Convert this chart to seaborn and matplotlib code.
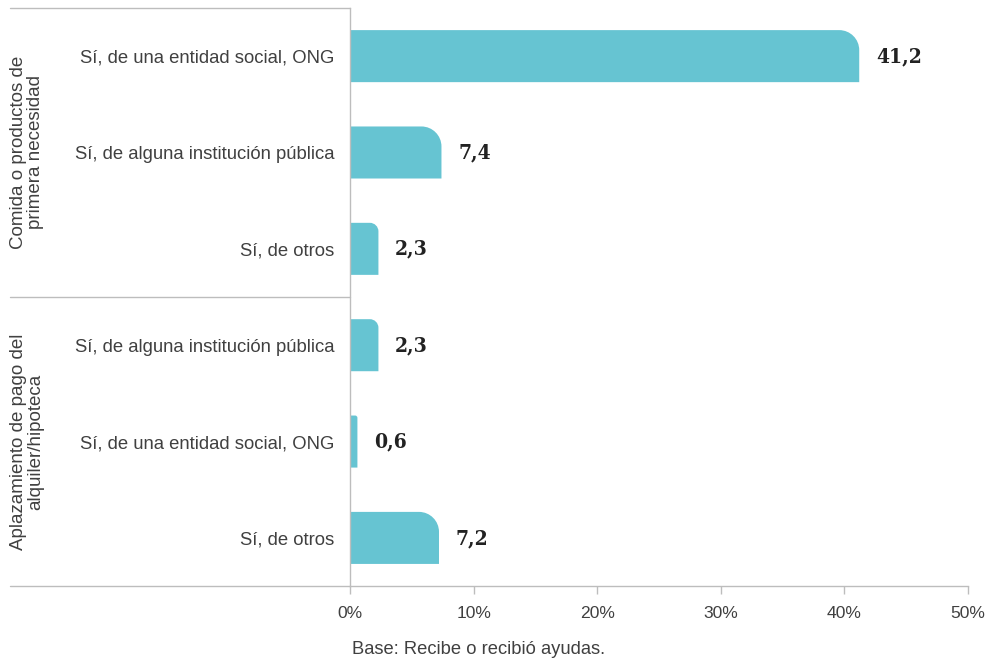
import matplotlib
matplotlib.use('Agg')
import matplotlib.pyplot as plt
import matplotlib.transforms as mtransforms
from matplotlib.lines import Line2D
from matplotlib.path import Path
from matplotlib.patches import PathPatch
import seaborn as sns
import pandas as pd

# data
groups = ['Comida o productos de\nprimera necesidad',
          'Aplazamiento de pago del\nalquiler/hipoteca']
answers = ['Sí, de una entidad social, ONG',
           'Sí, de alguna institución pública',
           'Sí, de otros',
           'Sí, de alguna institución pública',
           'Sí, de una entidad social, ONG',
           'Sí, de otros']
values = [41.2, 7.4, 2.3, 2.3, 0.6, 7.2]
row_group = [0, 0, 0, 1, 1, 1]
xticks = [0, 10, 20, 30, 40, 50]
footnote = 'Base: Recibe o recibió ayudas.'

bar_color = '#66c4d2'
gray = '#bdbdbd'
text_color = '#404040'

sns.set_theme(style='white')
plt.rcParams['font.family'] = ['Liberation Sans', 'DejaVu Sans']

df = pd.DataFrame({'row': ['r%d' % i for i in range(len(values))],
                   'answer': answers, 'value': values})

fig = plt.figure(figsize=(10, 6.63), dpi=100)
ax = fig.add_axes([0.35, 0.116, 0.618, 0.872])
sns.barplot(data=df, x='value', y='row', orient='h', color=bar_color,
            saturation=1, width=0.54, ax=ax)

ax.set_xlim(0, 50)
ax.set_ylim(len(values) - 0.5, -0.5)
ax.set_xlabel('')
ax.set_ylabel('')

# round the top-right corner of each bar
px_x = 50 / (0.618 * 1000)
px_y = len(values) / (0.872 * 663)
k = 0.5523
for p in list(ax.patches):
    x0, x1 = p.get_x(), p.get_x() + p.get_width()
    yt, yb = p.get_y(), p.get_y() + p.get_height()
    wpx = p.get_width() / px_x
    r = min(20, wpx * 0.3)
    rx, ry = r * px_x, r * px_y
    verts = [(x0, yb), (x0, yt), (x1 - rx, yt),
             (x1 - rx * (1 - k), yt), (x1, yt + ry * (1 - k)), (x1, yt + ry),
             (x1, yb), (x0, yb)]
    codes = [Path.MOVETO, Path.LINETO, Path.LINETO,
             Path.CURVE4, Path.CURVE4, Path.CURVE4,
             Path.LINETO, Path.CLOSEPOLY]
    ax.add_patch(PathPatch(Path(verts, codes), facecolor=bar_color,
                           edgecolor='none', zorder=2))
    p.remove()

for i, v in enumerate(values):
    ax.annotate(('%.1f' % v).replace('.', ','), (v, i), xytext=(12, 0),
                textcoords='offset points', va='center', ha='left',
                fontfamily='DejaVu Serif', fontstretch='condensed',
                fontweight='bold', fontsize=15, color='#222222')

ax.set_xticks(xticks)
ax.set_xticklabels(['%d%%' % t for t in xticks])
ax.set_yticks(range(len(answers)))
ax.set_yticklabels(answers)
ax.tick_params(axis='y', length=0, pad=11, labelsize=13.3, labelcolor=text_color)
ax.tick_params(axis='x', length=6, width=1, color=gray, direction='out',
               pad=8, labelsize=12.6, labelcolor=text_color, bottom=True)

for s in ['top', 'right']:
    ax.spines[s].set_visible(False)
for s in ['left', 'bottom']:
    ax.spines[s].set_color(gray)
    ax.spines[s].set_linewidth(1)

# lines running left of the axes and group labels
trans = mtransforms.blended_transform_factory(fig.transFigure, ax.transData)
for yy in [-0.5, 2.5, len(values) - 0.5]:
    fig.add_artist(Line2D([0.01, 0.35], [yy, yy], transform=trans,
                          color=gray, lw=1))

for g, name in enumerate(groups):
    rows = [i for i, rg in enumerate(row_group) if rg == g]
    yc = (rows[0] + rows[-1]) / 2
    fig.text(0.027, yc, name, transform=trans, rotation=90, ha='center',
             va='center', multialignment='center', fontsize=13.5,
             color=text_color, linespacing=1.0)

fig.text(0.352, 0.02, footnote, ha='left', va='center', fontsize=13.2,
         color=text_color)

fig.savefig('out.png', dpi=100)
